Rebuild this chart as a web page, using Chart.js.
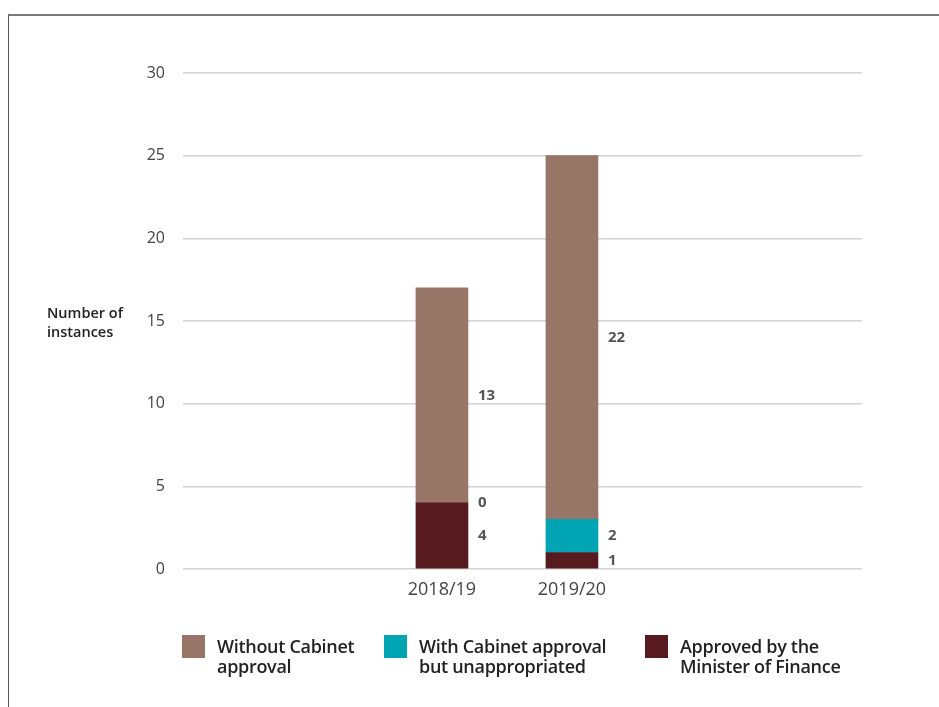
<!DOCTYPE html>
<html>
<head>
<meta charset="utf-8">
<script src="https://cdn.jsdelivr.net/npm/chart.js@4/dist/chart.umd.min.js"></script>
<style>
  html, body { margin: 0; padding: 0; background: #fff; }
  #wrap { position: relative; width: 939px; height: 707px; overflow: hidden; }
  #frame { position: absolute; left: 8px; top: 14px; width: 1000px; height: 800px;
           border-top: 2px solid #7a7a7a; border-left: 1.5px solid #555; }
  #chart { position: absolute; left: 0; top: 0; }
  #ytitle { position: absolute; left: 47px; top: 304px; font: 600 14.5px "Open Sans", sans-serif;
            color: #222; line-height: 18.5px; }
  .leg { position: absolute; top: 635px; font: 600 18px "Open Sans", sans-serif; color: #222;
         line-height: 19.5px; letter-spacing: -0.3px; }
  .leg .sw { position: absolute; left: 0; top: 0; width: 23px; height: 23px; }
  .leg .tx { position: absolute; left: 35px; top: 2px; white-space: nowrap; }
</style>
</head>
<body>
<div id="wrap">
  <div id="frame"></div>
  <canvas id="chart" width="939" height="707"></canvas>
  <div id="ytitle">Number of<br>instances</div>
  <div id="legend"></div>
</div>
<script>
// Financial years shown on the horizontal axis
const categories = ['2018/19', '2019/20'];
// Instances per year, by kind of approval
const withoutCabinet = [13, 22];
const withCabinetUnappropriated = [0, 2];
const ministerApproved = [4, 1];
// Value axis ticks
const yTicks = [0, 5, 10, 15, 20, 25, 30];

const seriesNames = ['Without Cabinet approval', 'With Cabinet approval but unappropriated', 'Approved by the Minister of Finance'];
const legendLines = [['Without Cabinet', 'approval'], ['With Cabinet approval', 'but unappropriated'], ['Approved by the', 'Minister of Finance']];
const colours = ['#977567', '#00a4b2', '#571a1e'];

const toPoints = arr => arr.map((v, i) => ({ x: i + 1, y: v }));
// Empty segments are left unpainted so no hairline shows at the join
const fillFor = colour => ctx => (ctx.raw && ctx.raw.y === 0 ? 'rgba(0,0,0,0)' : colour);

// Segment values printed to the right of each bar
const valueLabels = {
  id: 'valueLabels',
  afterDatasetsDraw(chart) {
    const ctx = chart.ctx;
    ctx.save();
    ctx.font = '700 15px "Open Sans", sans-serif';
    ctx.fillStyle = '#555';
    ctx.textAlign = 'left';
    ctx.textBaseline = 'middle';
    chart.data.datasets.forEach((ds, di) => {
      chart.getDatasetMeta(di).data.forEach((bar, i) => {
        const p = bar.getProps(['x', 'y', 'base', 'width'], true);
        ctx.fillText(String(ds.data[i].y), p.x + p.width / 2 + 10, (p.y + p.base) / 2);
      });
    });
    ctx.restore();
  }
};

new Chart(document.getElementById('chart'), {
  type: 'bar',
  data: {
    datasets: [
      { label: seriesNames[2], data: toPoints(ministerApproved), backgroundColor: fillFor(colours[2]) },
      { label: seriesNames[1], data: toPoints(withCabinetUnappropriated), backgroundColor: fillFor(colours[1]) },
      { label: seriesNames[0], data: toPoints(withoutCabinet), backgroundColor: fillFor(colours[0]) }
    ]
  },
  options: {
    responsive: false,
    animation: false,
    devicePixelRatio: 1,
    layout: { padding: { left: 0, right: 77, top: 73, bottom: 98 } },
    datasets: { bar: { barThickness: 52, borderWidth: 0 } },
    plugins: { legend: { display: false }, tooltip: { enabled: false } },
    scales: {
      x: {
        type: 'linear',
        stacked: true,
        offset: false,
        min: -0.992,
        max: 4.231,
        grid: { display: false, drawTicks: false, offset: false },
        border: { display: false },
        afterBuildTicks: s => { s.ticks = categories.map((c, i) => ({ value: i + 1 })); },
        afterFit: s => { s.height = 40; },
        ticks: {
          autoSkip: false,
          maxRotation: 0,
          padding: 10,
          color: '#444',
          font: { family: 'Open Sans', size: 18 },
          callback: v => categories[v - 1]
        }
      },
      y: {
        stacked: true,
        min: yTicks[0],
        max: yTicks[yTicks.length - 1],
        afterBuildTicks: s => { s.ticks = yTicks.map(v => ({ value: v })); },
        afterFit: s => { s.width = 183; },
        grid: { color: '#d2d2d2', lineWidth: 1.5, drawTicks: false },
        border: { display: false },
        ticks: {
          padding: 18,
          color: '#444',
          font: { family: 'Open Sans', size: 16 }
        }
      }
    }
  },
  plugins: [valueLabels]
});

// Legend below the plot
const legendLeft = [182, 384, 645];
const legend = document.getElementById('legend');
seriesNames.forEach((name, i) => {
  const item = document.createElement('div');
  item.className = 'leg';
  item.style.left = legendLeft[i] + 'px';
  const sw = document.createElement('div');
  sw.className = 'sw';
  sw.style.background = colours[i];
  const tx = document.createElement('div');
  tx.className = 'tx';
  tx.innerHTML = legendLines[i].join('<br>');
  item.appendChild(sw);
  item.appendChild(tx);
  legend.appendChild(item);
});
</script>
</body>
</html>
